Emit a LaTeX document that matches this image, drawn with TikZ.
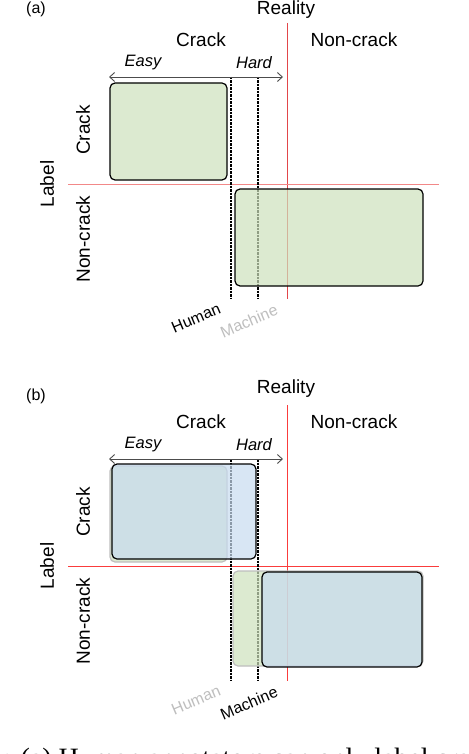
\documentclass[tikz,border=0pt]{standalone}
\usepackage{fontspec}
\setmainfont{Liberation Sans}
\newfontfamily\capfont{Liberation Serif}
\usetikzlibrary{arrows.meta}
\definecolor{vred}{RGB}{226,70,74}
\definecolor{hred}{RGB}{242,136,136}
\definecolor{brightred}{RGB}{250,60,60}
\definecolor{humgreen}{RGB}{205,225,188}
\definecolor{machblue}{RGB}{199,219,239}
\definecolor{fadegray}{RGB}{190,190,190}
\tikzset{
  head/.style={font=\fontsize{19}{22}\selectfont},
  side/.style={font=\fontsize{19}{22}\selectfont, rotate=90},
  level/.style={font=\fontsize{16.5}{19}\selectfont\itshape},
  who/.style={font=\fontsize{16}{19}\selectfont, rotate=23, inner sep=1pt},
  bound/.style={dash pattern=on 2.5pt off 1pt, line width=1.2pt},
  span/.style={gray!60!black, line width=0.9pt, <->, >={Straight Barb[length=5pt,width=9pt]}},
  region/.style={rounded corners=5pt, line width=1.2pt, fill opacity=0.7},
}
\begin{document}
\begin{tikzpicture}[x=1pt,y=-1pt]
\useasboundingbox (0,0) rectangle (468,754);
\clip (0,0) rectangle (468,754);
% shared frame of both panels
\foreach \p/\dy/\ty/\ry/\hum/\mach/\vcol/\hcol in
    {a/0/9/10/black/fadegray/vred/hred, b/382/14/7/fadegray/black/brightred/brightred}
{
  \begin{scope}[shift={(0,\dy)}]
    \coordinate (vtop-\p) at (287,23);
    \coordinate (vbot-\p) at (287,299);
    \coordinate (hl-\p) at (68,184);
    \coordinate (hr-\p) at (439,184);
    \coordinate (hu-\p) at (231,77);
    \coordinate (hb-\p) at (231,299);
    \coordinate (mu-\p) at (258,77);
    \coordinate (mb-\p) at (258,299);
    \coordinate (al-\p) at (109,77);
    \coordinate (ar-\p) at (283,77);
    \draw[\vcol, line width=0.9pt] (vtop-\p) -- (vbot-\p);
    \draw[\hcol, line width=0.9pt] (hl-\p) -- (hr-\p);
    \draw[bound] (hu-\p) -- (hb-\p);
    \draw[bound] (mu-\p) -- (mb-\p);
    \draw[span] (al-\p) -- (ar-\p);
    \node[font=\fontsize{16}{19}\selectfont] (tag-\p) at (36,\ty) {(\p)};
    \node[head] (real-\p) at (286,\ry) {Reality};
    \node[head] (ccol-\p) at (201,40) {Crack};
    \node[head] (ncol-\p) at (354,40) {Non-crack};
    \node[level] (easy-\p) at (143,63) {Easy};
    \node[level] (hard-\p) at (254,63) {Hard};
    \node[side] (lab-\p) at (47,184) {Label};
    \node[side] (crow-\p) at (83,130) {Crack};
    \node[side] (nrow-\p) at (83,239) {Non-crack};
    \node[who, text=\hum] (hum-\p) at (196,318) {Human};
    \node[who, text=\mach] (mach-\p) at (249,321) {Machine};
  \end{scope}
}
% (a) human annotation
\draw[region, fill=humgreen] (110,83) rectangle (227,180);
\draw[region, fill=humgreen] (235,189) rectangle (423,286);
% (b) human vs machine annotation
\begin{scope}[shift={(0,382)}]
  \draw[region, draw=fadegray, fill=humgreen] (110,84) rectangle (227,180);
  \draw[region, draw=fadegray, fill=humgreen] (233,189) rectangle (423,284);
  \draw[region, fill=machblue] (112,82) rectangle (256,177);
  \draw[region, fill=machblue] (262,190) rectangle (422,285);
\end{scope}
\node[font=\capfont\fontsize{28}{31}\selectfont, anchor=base west, inner sep=0pt]
  (cap) at (3.2,767) {: (a) Human annotators can only label crack};
\end{tikzpicture}
\end{document}
